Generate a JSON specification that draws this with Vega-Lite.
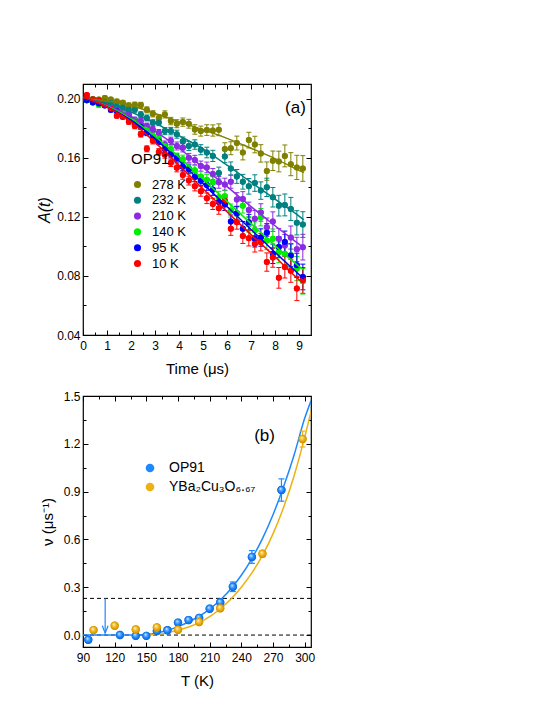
{
  "$schema": "https://vega.github.io/schema/vega-lite/v6.json",
  "background": "white",
  "autosize": {"type": "pad"},
  "padding": {"left": 36, "top": 82, "right": 5, "bottom": 5},
  "bounds": "flush",
  "spacing": 61,
  "resolve": {"scale": {"color": "independent"}, "legend": {"color": "independent"}},
  "config": {
    "font": "Liberation Sans",
    "view": {"stroke": "#000", "strokeWidth": 1.2},
    "tick": {"opacity": 1},
    "axis": {"grid": false, "domain": false, "tickColor": "#000", "tickWidth": 1, "labelColor": "#000", "titleColor": "#000", "labelFontSize": 12, "titleFontSize": 15, "titleFontWeight": "normal", "labelFont": "Liberation Sans", "titleFont": "Liberation Sans"},
    "legend": {"labelFont": "Liberation Sans", "titleFont": "Liberation Sans", "labelColor": "#000", "titleColor": "#000", "symbolOpacity": 1}
  },
  "vconcat": [
    {
      "width": 228,
      "height": 251,
      "data": {"values": [
        {"s":"278 K","t":0.16,"a":0.2000,"e":0.0011},{"s":"278 K","t":0.41,"a":0.1998,"e":0.0011},{"s":"278 K","t":0.66,"a":0.1995,"e":0.0012},{"s":"278 K","t":0.91,"a":0.2005,"e":0.0013},{"s":"278 K","t":1.16,"a":0.1995,"e":0.0014},{"s":"278 K","t":1.41,"a":0.1982,"e":0.0015},{"s":"278 K","t":1.66,"a":0.1973,"e":0.0016},{"s":"278 K","t":1.91,"a":0.1955,"e":0.0017},{"s":"278 K","t":2.16,"a":0.1959,"e":0.0018},{"s":"278 K","t":2.41,"a":0.1957,"e":0.0019},{"s":"278 K","t":2.66,"a":0.1925,"e":0.0020},{"s":"278 K","t":2.91,"a":0.1898,"e":0.0021},{"s":"278 K","t":3.16,"a":0.1870,"e":0.0022},{"s":"278 K","t":3.41,"a":0.1894,"e":0.0024},{"s":"278 K","t":3.66,"a":0.1849,"e":0.0025},{"s":"278 K","t":3.91,"a":0.1831,"e":0.0027},{"s":"278 K","t":4.16,"a":0.1842,"e":0.0028},{"s":"278 K","t":4.41,"a":0.1831,"e":0.0030},{"s":"278 K","t":4.66,"a":0.1792,"e":0.0032},{"s":"278 K","t":4.91,"a":0.1781,"e":0.0034},{"s":"278 K","t":5.16,"a":0.1788,"e":0.0036},{"s":"278 K","t":5.41,"a":0.1785,"e":0.0038},{"s":"278 K","t":5.66,"a":0.1790,"e":0.0040},{"s":"278 K","t":5.91,"a":0.1660,"e":0.0042},{"s":"278 K","t":6.16,"a":0.1665,"e":0.0044},{"s":"278 K","t":6.41,"a":0.1700,"e":0.0047},{"s":"278 K","t":6.66,"a":0.1636,"e":0.0050},{"s":"278 K","t":6.91,"a":0.1720,"e":0.0053},{"s":"278 K","t":7.16,"a":0.1690,"e":0.0056},{"s":"278 K","t":7.41,"a":0.1630,"e":0.0059},{"s":"278 K","t":7.66,"a":0.1510,"e":0.0062},{"s":"278 K","t":7.91,"a":0.1580,"e":0.0066},{"s":"278 K","t":8.16,"a":0.1575,"e":0.0070},{"s":"278 K","t":8.41,"a":0.1613,"e":0.0074},{"s":"278 K","t":8.66,"a":0.1557,"e":0.0078},{"s":"278 K","t":8.91,"a":0.1535,"e":0.0082},{"s":"278 K","t":9.16,"a":0.1528,"e":0.0087},
        {"s":"232 K","t":0.16,"a":0.2000,"e":0.0011},{"s":"232 K","t":0.41,"a":0.1995,"e":0.0011},{"s":"232 K","t":0.66,"a":0.1985,"e":0.0012},{"s":"232 K","t":0.91,"a":0.1978,"e":0.0013},{"s":"232 K","t":1.16,"a":0.1972,"e":0.0014},{"s":"232 K","t":1.41,"a":0.1950,"e":0.0015},{"s":"232 K","t":1.66,"a":0.1940,"e":0.0016},{"s":"232 K","t":1.91,"a":0.1925,"e":0.0017},{"s":"232 K","t":2.16,"a":0.1927,"e":0.0018},{"s":"232 K","t":2.41,"a":0.1893,"e":0.0019},{"s":"232 K","t":2.66,"a":0.1870,"e":0.0020},{"s":"232 K","t":2.91,"a":0.1837,"e":0.0021},{"s":"232 K","t":3.16,"a":0.1840,"e":0.0022},{"s":"232 K","t":3.41,"a":0.1781,"e":0.0024},{"s":"232 K","t":3.66,"a":0.1781,"e":0.0025},{"s":"232 K","t":3.91,"a":0.1760,"e":0.0027},{"s":"232 K","t":4.16,"a":0.1713,"e":0.0028},{"s":"232 K","t":4.41,"a":0.1680,"e":0.0030},{"s":"232 K","t":4.66,"a":0.1690,"e":0.0032},{"s":"232 K","t":4.91,"a":0.1655,"e":0.0034},{"s":"232 K","t":5.16,"a":0.1636,"e":0.0036},{"s":"232 K","t":5.41,"a":0.1613,"e":0.0038},{"s":"232 K","t":5.66,"a":0.1497,"e":0.0040},{"s":"232 K","t":5.91,"a":0.1609,"e":0.0042},{"s":"232 K","t":6.16,"a":0.1528,"e":0.0044},{"s":"232 K","t":6.41,"a":0.1474,"e":0.0047},{"s":"232 K","t":6.66,"a":0.1438,"e":0.0050},{"s":"232 K","t":6.91,"a":0.1407,"e":0.0053},{"s":"232 K","t":7.16,"a":0.1429,"e":0.0056},{"s":"232 K","t":7.41,"a":0.1378,"e":0.0059},{"s":"232 K","t":7.66,"a":0.1400,"e":0.0062},{"s":"232 K","t":7.91,"a":0.1333,"e":0.0066},{"s":"232 K","t":8.16,"a":0.1276,"e":0.0070},{"s":"232 K","t":8.41,"a":0.1281,"e":0.0074},{"s":"232 K","t":8.66,"a":0.1254,"e":0.0078},{"s":"232 K","t":8.91,"a":0.1160,"e":0.0082},{"s":"232 K","t":9.16,"a":0.1148,"e":0.0087},
        {"s":"210 K","t":0.16,"a":0.1995,"e":0.0011},{"s":"210 K","t":0.41,"a":0.1985,"e":0.0011},{"s":"210 K","t":0.66,"a":0.1975,"e":0.0012},{"s":"210 K","t":0.91,"a":0.1958,"e":0.0013},{"s":"210 K","t":1.16,"a":0.1950,"e":0.0014},{"s":"210 K","t":1.41,"a":0.1920,"e":0.0015},{"s":"210 K","t":1.66,"a":0.1905,"e":0.0016},{"s":"210 K","t":1.91,"a":0.1895,"e":0.0017},{"s":"210 K","t":2.16,"a":0.1858,"e":0.0018},{"s":"210 K","t":2.41,"a":0.1849,"e":0.0019},{"s":"210 K","t":2.66,"a":0.1815,"e":0.0020},{"s":"210 K","t":2.91,"a":0.1792,"e":0.0021},{"s":"210 K","t":3.16,"a":0.1770,"e":0.0022},{"s":"210 K","t":3.41,"a":0.1690,"e":0.0024},{"s":"210 K","t":3.66,"a":0.1715,"e":0.0025},{"s":"210 K","t":3.91,"a":0.1680,"e":0.0027},{"s":"210 K","t":4.16,"a":0.1668,"e":0.0028},{"s":"210 K","t":4.41,"a":0.1600,"e":0.0030},{"s":"210 K","t":4.66,"a":0.1585,"e":0.0032},{"s":"210 K","t":4.91,"a":0.1544,"e":0.0034},{"s":"210 K","t":5.16,"a":0.1535,"e":0.0036},{"s":"210 K","t":5.41,"a":0.1490,"e":0.0038},{"s":"210 K","t":5.66,"a":0.1434,"e":0.0040},{"s":"210 K","t":5.91,"a":0.1420,"e":0.0042},{"s":"210 K","t":6.16,"a":0.1438,"e":0.0044},{"s":"210 K","t":6.41,"a":0.1317,"e":0.0047},{"s":"210 K","t":6.66,"a":0.1321,"e":0.0050},{"s":"210 K","t":6.91,"a":0.1247,"e":0.0053},{"s":"210 K","t":7.16,"a":0.1187,"e":0.0056},{"s":"210 K","t":7.41,"a":0.1230,"e":0.0059},{"s":"210 K","t":7.66,"a":0.1130,"e":0.0062},{"s":"210 K","t":7.91,"a":0.1168,"e":0.0066},{"s":"210 K","t":8.16,"a":0.1052,"e":0.0070},{"s":"210 K","t":8.41,"a":0.1007,"e":0.0074},{"s":"210 K","t":8.66,"a":0.1060,"e":0.0078},{"s":"210 K","t":8.91,"a":0.0980,"e":0.0082},{"s":"210 K","t":9.16,"a":0.0995,"e":0.0087},
        {"s":"140 K","t":0.16,"a":0.1990,"e":0.0011},{"s":"140 K","t":0.41,"a":0.1978,"e":0.0011},{"s":"140 K","t":0.66,"a":0.1958,"e":0.0012},{"s":"140 K","t":0.91,"a":0.1962,"e":0.0013},{"s":"140 K","t":1.16,"a":0.1938,"e":0.0014},{"s":"140 K","t":1.41,"a":0.1905,"e":0.0015},{"s":"140 K","t":1.66,"a":0.1900,"e":0.0016},{"s":"140 K","t":1.91,"a":0.1865,"e":0.0017},{"s":"140 K","t":2.16,"a":0.1852,"e":0.0018},{"s":"140 K","t":2.41,"a":0.1810,"e":0.0019},{"s":"140 K","t":2.66,"a":0.1795,"e":0.0020},{"s":"140 K","t":2.91,"a":0.1748,"e":0.0021},{"s":"140 K","t":3.16,"a":0.1730,"e":0.0022},{"s":"140 K","t":3.41,"a":0.1680,"e":0.0024},{"s":"140 K","t":3.66,"a":0.1660,"e":0.0025},{"s":"140 K","t":3.91,"a":0.1605,"e":0.0027},{"s":"140 K","t":4.16,"a":0.1590,"e":0.0028},{"s":"140 K","t":4.41,"a":0.1530,"e":0.0030},{"s":"140 K","t":4.66,"a":0.1515,"e":0.0032},{"s":"140 K","t":4.91,"a":0.1472,"e":0.0034},{"s":"140 K","t":5.16,"a":0.1452,"e":0.0036},{"s":"140 K","t":5.41,"a":0.1434,"e":0.0038},{"s":"140 K","t":5.66,"a":0.1333,"e":0.0040},{"s":"140 K","t":5.91,"a":0.1340,"e":0.0042},{"s":"140 K","t":6.16,"a":0.1243,"e":0.0044},{"s":"140 K","t":6.41,"a":0.1220,"e":0.0047},{"s":"140 K","t":6.66,"a":0.1276,"e":0.0050},{"s":"140 K","t":6.91,"a":0.1150,"e":0.0053},{"s":"140 K","t":7.16,"a":0.1110,"e":0.0056},{"s":"140 K","t":7.41,"a":0.1198,"e":0.0059},{"s":"140 K","t":7.66,"a":0.1040,"e":0.0062},{"s":"140 K","t":7.91,"a":0.1052,"e":0.0066},{"s":"140 K","t":8.16,"a":0.0960,"e":0.0070},{"s":"140 K","t":8.41,"a":0.0951,"e":0.0074},{"s":"140 K","t":8.66,"a":0.0940,"e":0.0078},{"s":"140 K","t":8.91,"a":0.0850,"e":0.0082},{"s":"140 K","t":9.16,"a":0.0764,"e":0.0087},
        {"s":"95 K","t":0.16,"a":0.1990,"e":0.0011},{"s":"95 K","t":0.41,"a":0.1975,"e":0.0011},{"s":"95 K","t":0.66,"a":0.1968,"e":0.0012},{"s":"95 K","t":0.91,"a":0.1955,"e":0.0013},{"s":"95 K","t":1.16,"a":0.1925,"e":0.0014},{"s":"95 K","t":1.41,"a":0.1915,"e":0.0015},{"s":"95 K","t":1.66,"a":0.1880,"e":0.0016},{"s":"95 K","t":1.91,"a":0.1870,"e":0.0017},{"s":"95 K","t":2.16,"a":0.1830,"e":0.0018},{"s":"95 K","t":2.41,"a":0.1812,"e":0.0019},{"s":"95 K","t":2.66,"a":0.1770,"e":0.0020},{"s":"95 K","t":2.91,"a":0.1735,"e":0.0021},{"s":"95 K","t":3.16,"a":0.1712,"e":0.0022},{"s":"95 K","t":3.41,"a":0.1660,"e":0.0024},{"s":"95 K","t":3.66,"a":0.1625,"e":0.0025},{"s":"95 K","t":3.91,"a":0.1598,"e":0.0027},{"s":"95 K","t":4.16,"a":0.1540,"e":0.0028},{"s":"95 K","t":4.41,"a":0.1522,"e":0.0030},{"s":"95 K","t":4.66,"a":0.1470,"e":0.0032},{"s":"95 K","t":4.91,"a":0.1445,"e":0.0034},{"s":"95 K","t":5.16,"a":0.1416,"e":0.0036},{"s":"95 K","t":5.41,"a":0.1384,"e":0.0038},{"s":"95 K","t":5.66,"a":0.1300,"e":0.0040},{"s":"95 K","t":5.91,"a":0.1285,"e":0.0042},{"s":"95 K","t":6.16,"a":0.1169,"e":0.0044},{"s":"95 K","t":6.41,"a":0.1225,"e":0.0047},{"s":"95 K","t":6.66,"a":0.1119,"e":0.0050},{"s":"95 K","t":6.91,"a":0.1164,"e":0.0053},{"s":"95 K","t":7.16,"a":0.1052,"e":0.0056},{"s":"95 K","t":7.41,"a":0.1060,"e":0.0059},{"s":"95 K","t":7.66,"a":0.1092,"e":0.0062},{"s":"95 K","t":7.91,"a":0.0950,"e":0.0066},{"s":"95 K","t":8.16,"a":0.0996,"e":0.0070},{"s":"95 K","t":8.41,"a":0.1030,"e":0.0074},{"s":"95 K","t":8.66,"a":0.0939,"e":0.0078},{"s":"95 K","t":8.91,"a":0.0872,"e":0.0082},{"s":"95 K","t":9.16,"a":0.0793,"e":0.0087},
        {"s":"10 K","t":0.16,"a":0.2025,"e":0.0011},{"s":"10 K","t":0.41,"a":0.1995,"e":0.0011},{"s":"10 K","t":0.66,"a":0.1990,"e":0.0012},{"s":"10 K","t":0.91,"a":0.1960,"e":0.0013},{"s":"10 K","t":1.16,"a":0.1935,"e":0.0014},{"s":"10 K","t":1.41,"a":0.1885,"e":0.0015},{"s":"10 K","t":1.66,"a":0.1880,"e":0.0016},{"s":"10 K","t":1.91,"a":0.1845,"e":0.0017},{"s":"10 K","t":2.16,"a":0.1815,"e":0.0018},{"s":"10 K","t":2.41,"a":0.1760,"e":0.0019},{"s":"10 K","t":2.66,"a":0.1661,"e":0.0020},{"s":"10 K","t":2.91,"a":0.1715,"e":0.0021},{"s":"10 K","t":3.16,"a":0.1640,"e":0.0022},{"s":"10 K","t":3.41,"a":0.1622,"e":0.0024},{"s":"10 K","t":3.66,"a":0.1566,"e":0.0025},{"s":"10 K","t":3.91,"a":0.1532,"e":0.0027},{"s":"10 K","t":4.16,"a":0.1483,"e":0.0028},{"s":"10 K","t":4.41,"a":0.1446,"e":0.0030},{"s":"10 K","t":4.66,"a":0.1408,"e":0.0032},{"s":"10 K","t":4.91,"a":0.1374,"e":0.0034},{"s":"10 K","t":5.16,"a":0.1326,"e":0.0036},{"s":"10 K","t":5.41,"a":0.1288,"e":0.0038},{"s":"10 K","t":5.66,"a":0.1258,"e":0.0040},{"s":"10 K","t":5.91,"a":0.1310,"e":0.0042},{"s":"10 K","t":6.16,"a":0.1119,"e":0.0044},{"s":"10 K","t":6.41,"a":0.1164,"e":0.0047},{"s":"10 K","t":6.66,"a":0.1070,"e":0.0050},{"s":"10 K","t":6.91,"a":0.1056,"e":0.0053},{"s":"10 K","t":7.16,"a":0.1018,"e":0.0056},{"s":"10 K","t":7.41,"a":0.1029,"e":0.0059},{"s":"10 K","t":7.66,"a":0.0894,"e":0.0062},{"s":"10 K","t":7.91,"a":0.0925,"e":0.0066},{"s":"10 K","t":8.16,"a":0.0787,"e":0.0070},{"s":"10 K","t":8.41,"a":0.0860,"e":0.0074},{"s":"10 K","t":8.66,"a":0.0835,"e":0.0078},{"s":"10 K","t":8.91,"a":0.0715,"e":0.0082},{"s":"10 K","t":9.16,"a":0.0770,"e":0.0087}
      ]},
      "layer": [
        {
          "mark": {"type": "point", "filled": true, "size": 36, "opacity": 1, "fillOpacity": 1, "strokeWidth": 0},
          "encoding": {
            "x": {"field": "t", "type": "quantitative", "scale": {"domain": [0, 9.5], "nice": false, "zero": false},
              "axis": {"orient": "bottom", "values": [0,0.5,1,1.5,2,2.5,3,3.5,4,4.5,5,5.5,6,6.5,7,7.5,8,8.5,9],
                "labelExpr": "datum.value % 1 === 0 ? format(datum.value, 'd') : ''",
                "tickSize": {"condition": {"test": "datum.value % 1 === 0", "value": -5}, "value": -3},
                "labelPadding": 10, "labelFlush": false, "labelOverlap": false, "title": "Time (μs)", "titlePadding": 8}},
            "y": {"field": "a", "type": "quantitative", "scale": {"domain": [0.04, 0.21], "nice": false, "zero": false},
              "axis": {"orient": "left", "values": [0.04,0.06,0.08,0.1,0.12,0.14,0.16,0.18,0.2],
                "labelExpr": "round(datum.value*100) % 4 === 0 ? format(datum.value, '.2f') : ''",
                "tickSize": {"condition": {"test": "round(datum.value*100) % 4 === 0", "value": -5}, "value": -3},
                "labelPadding": 8, "labelFlush": false, "labelOverlap": false, "title": "A(t)", "titleFontSize": 16, "titleFontStyle": "italic", "titlePadding": 4}},
            "color": {"field": "s", "type": "nominal", "scale": {"domain": ["278 K", "232 K", "210 K", "140 K", "95 K", "10 K"], "range": ["#808000", "#008080", "#8b2be2", "#00ee00", "#0000ff", "#ff0000"]},
              "legend": {"orient": "none", "legendX": 48, "legendY": 68, "padding": 0, "title": "OP91", "titleFontSize": 15, "titleFontWeight": "normal", "titlePadding": 11, "labelFontSize": 13, "symbolType": "circle", "symbolSize": 50, "symbolStrokeWidth": 0, "symbolOpacity": 1, "symbolFillOpacity": 1, "rowPadding": 1.8, "labelOffset": 8}}
          }
        },
        {
          "mark": {"type": "errorbar", "ticks": {"size": 5, "opacity": 1}, "rule": {"opacity": 1}, "thickness": 1},
          "encoding": {
            "x": {"field": "t", "type": "quantitative", "scale": {"domain": [0, 9.5], "nice": false, "zero": false}, "axis": null},
            "y": {"field": "a", "type": "quantitative", "scale": {"domain": [0.04, 0.21], "nice": false, "zero": false}, "axis": null},
            "yError": {"field": "e"},
            "color": {"field": "s", "type": "nominal"}
          }
        },
        {
          "mark": {"type": "point", "filled": true, "size": 36, "opacity": 1, "strokeWidth": 0},
          "encoding": {
            "x": {"field": "t", "type": "quantitative", "axis": null},
            "y": {"field": "a", "type": "quantitative", "axis": null},
            "color": {"field": "s", "type": "nominal"}
          }
        },
        {
          "data": {"values": [
            {"s":"278 K","t":0,"a":0.2},{"s":"278 K","t":1,"a":0.1985},{"s":"278 K","t":2,"a":0.1955},{"s":"278 K","t":3,"a":0.190},{"s":"278 K","t":4,"a":0.1845},{"s":"278 K","t":5,"a":0.179},{"s":"278 K","t":6,"a":0.1732},{"s":"278 K","t":7,"a":0.1665},{"s":"278 K","t":8,"a":0.1595},{"s":"278 K","t":9,"a":0.1515},{"s":"278 K","t":9.2,"a":0.150},
            {"s":"232 K","t":0,"a":0.2},{"s":"232 K","t":1,"a":0.197},{"s":"232 K","t":2,"a":0.191},{"s":"232 K","t":3,"a":0.1835},{"s":"232 K","t":4,"a":0.175},{"s":"232 K","t":5,"a":0.166},{"s":"232 K","t":6,"a":0.155},{"s":"232 K","t":7,"a":0.1435},{"s":"232 K","t":8,"a":0.132},{"s":"232 K","t":9,"a":0.1205},{"s":"232 K","t":9.2,"a":0.118},
            {"s":"210 K","t":0,"a":0.2},{"s":"210 K","t":1,"a":0.1955},{"s":"210 K","t":2,"a":0.188},{"s":"210 K","t":3,"a":0.178},{"s":"210 K","t":4,"a":0.1665},{"s":"210 K","t":5,"a":0.1535},{"s":"210 K","t":6,"a":0.1405},{"s":"210 K","t":7,"a":0.127},{"s":"210 K","t":8,"a":0.114},{"s":"210 K","t":9,"a":0.1015},{"s":"210 K","t":9.2,"a":0.099},
            {"s":"140 K","t":0,"a":0.2},{"s":"140 K","t":1,"a":0.195},{"s":"140 K","t":2,"a":0.1865},{"s":"140 K","t":3,"a":0.1745},{"s":"140 K","t":4,"a":0.1605},{"s":"140 K","t":5,"a":0.1455},{"s":"140 K","t":6,"a":0.1305},{"s":"140 K","t":7,"a":0.1155},{"s":"140 K","t":8,"a":0.1005},{"s":"140 K","t":9,"a":0.0865},{"s":"140 K","t":9.2,"a":0.084},
            {"s":"95 K","t":0,"a":0.2},{"s":"95 K","t":1,"a":0.1945},{"s":"95 K","t":2,"a":0.1855},{"s":"95 K","t":3,"a":0.173},{"s":"95 K","t":4,"a":0.158},{"s":"95 K","t":5,"a":0.1425},{"s":"95 K","t":6,"a":0.127},{"s":"95 K","t":7,"a":0.1115},{"s":"95 K","t":8,"a":0.096},{"s":"95 K","t":9,"a":0.081},{"s":"95 K","t":9.2,"a":0.078},
            {"s":"10 K","t":0,"a":0.201},{"s":"10 K","t":1,"a":0.1945},{"s":"10 K","t":2,"a":0.1845},{"s":"10 K","t":3,"a":0.1705},{"s":"10 K","t":4,"a":0.155},{"s":"10 K","t":5,"a":0.139},{"s":"10 K","t":6,"a":0.1235},{"s":"10 K","t":7,"a":0.108},{"s":"10 K","t":8,"a":0.093},{"s":"10 K","t":9,"a":0.0775},{"s":"10 K","t":9.2,"a":0.075}
          ]},
          "mark": {"type": "line", "interpolate": "monotone", "strokeWidth": 1.5},
          "encoding": {
            "x": {"field": "t", "type": "quantitative", "scale": {"domain": [0, 9.5], "nice": false, "zero": false},
              "axis": {"orient": "top", "values": [0,0.5,1,1.5,2,2.5,3,3.5,4,4.5,5,5.5,6,6.5,7,7.5,8,8.5,9], "labels": false,
                "tickSize": {"condition": {"test": "datum.value % 1 === 0", "value": -5}, "value": -3}, "title": null}},
            "y": {"field": "a", "type": "quantitative", "scale": {"domain": [0.04, 0.21], "nice": false, "zero": false},
              "axis": {"orient": "right", "values": [0.04,0.06,0.08,0.1,0.12,0.14,0.16,0.18,0.2], "labels": false,
                "tickSize": {"condition": {"test": "round(datum.value*100) % 4 === 0", "value": -5}, "value": -3}, "title": null}},
            "color": {"field": "s", "type": "nominal"}
          }
        },
        {
          "data": {"values": [{"label": "(a)"}]},
          "mark": {"type": "text", "fontSize": 17, "color": "#000", "font": "Liberation Sans"},
          "encoding": {
            "x": {"datum": 8.85, "type": "quantitative", "axis": null},
            "y": {"datum": 0.1935, "type": "quantitative", "axis": null},
            "text": {"field": "label"}
          }
        }
      ]
    },
    {
      "width": 228,
      "height": 251,
      "data": {"values": [
        {"s":"OP91","T":95,"v":-0.03,"e":0.01},{"s":"OP91","T":125,"v":0.0,"e":0.01},{"s":"OP91","T":140,"v":-0.005,"e":0.01},{"s":"OP91","T":150,"v":-0.005,"e":0.01},{"s":"OP91","T":160,"v":0.025,"e":0.01},{"s":"OP91","T":170,"v":0.03,"e":0.01},{"s":"OP91","T":180,"v":0.078,"e":0.015},{"s":"OP91","T":190,"v":0.094,"e":0.015},{"s":"OP91","T":200,"v":0.108,"e":0.015},{"s":"OP91","T":210,"v":0.165,"e":0.015},{"s":"OP91","T":220,"v":0.205,"e":0.02},{"s":"OP91","T":232,"v":0.303,"e":0.03},{"s":"OP91","T":250,"v":0.49,"e":0.04},{"s":"OP91","T":278,"v":0.91,"e":0.07},
        {"s":"YBa₂Cu₃O₆.₆₇","T":100,"v":0.031,"e":0.01},{"s":"YBa₂Cu₃O₆.₆₇","T":120,"v":0.058,"e":0.01},{"s":"YBa₂Cu₃O₆.₆₇","T":140,"v":0.035,"e":0.01},{"s":"YBa₂Cu₃O₆.₆₇","T":160,"v":0.048,"e":0.01},{"s":"YBa₂Cu₃O₆.₆₇","T":180,"v":0.033,"e":0.01},{"s":"YBa₂Cu₃O₆.₆₇","T":200,"v":0.082,"e":0.01},{"s":"YBa₂Cu₃O₆.₆₇","T":220,"v":0.168,"e":0.015},{"s":"YBa₂Cu₃O₆.₆₇","T":260,"v":0.51,"e":0.02},{"s":"YBa₂Cu₃O₆.₆₇","T":298,"v":1.23,"e":0.05}
      ]},
      "layer": [
        {
          "mark": {"type": "point", "filled": true, "size": 70, "opacity": 1, "fillOpacity": 1, "strokeWidth": 0},
          "encoding": {
            "x": {"field": "T", "type": "quantitative", "scale": {"domain": [90, 306], "nice": false, "zero": false},
              "axis": {"orient": "top", "values": [90,105,120,135,150,165,180,195,210,225,240,255,270,285,300], "labels": false,
                "tickSize": {"condition": {"test": "(datum.value - 90) % 30 === 0", "value": -5}, "value": -3}, "title": null}},
            "y": {"field": "v", "type": "quantitative", "scale": {"domain": [-0.075, 1.5], "nice": false, "zero": false},
              "axis": {"orient": "right", "values": [0,0.15,0.3,0.45,0.6,0.75,0.9,1.05,1.2,1.35,1.5], "labels": false,
                "tickSize": {"condition": {"test": "round(datum.value*100) % 30 === 0", "value": -5}, "value": -3}, "title": null}},
            "color": {"field": "s", "type": "nominal", "scale": {"domain": ["OP91", "YBa₂Cu₃O₆.₆₇"], "range": ["#1e88ff", "#eeb111"]},
              "legend": {"orient": "none", "legendX": 60, "legendY": 65, "padding": 0, "title": null, "labelFontSize": 14, "symbolType": "circle", "symbolSize": 75, "symbolStrokeWidth": 0, "symbolOpacity": 1, "symbolFillOpacity": 1, "rowPadding": 5, "labelOffset": 12}}
          }
        },
        {
          "data": {"values": [{"v": 0}, {"v": 0.23}]},
          "mark": {"type": "rule", "strokeDash": [4, 3], "color": "#000", "strokeWidth": 1},
          "encoding": {
            "y": {"field": "v", "type": "quantitative", "axis": null}
          }
        },
        {
          "data": {"values": [
            {"s":"OP91","T":90,"v":0},{"s":"OP91","T":140,"v":0},{"s":"OP91","T":150,"v":0.003},{"s":"OP91","T":160,"v":0.013},{"s":"OP91","T":170,"v":0.03},{"s":"OP91","T":180,"v":0.053},{"s":"OP91","T":190,"v":0.082},{"s":"OP91","T":200,"v":0.118},{"s":"OP91","T":210,"v":0.163},{"s":"OP91","T":220,"v":0.22},{"s":"OP91","T":232,"v":0.305},{"s":"OP91","T":240,"v":0.375},{"s":"OP91","T":250,"v":0.48},{"s":"OP91","T":260,"v":0.605},{"s":"OP91","T":270,"v":0.755},{"s":"OP91","T":280,"v":0.93},{"s":"OP91","T":290,"v":1.13},{"s":"OP91","T":300,"v":1.36},{"s":"OP91","T":306,"v":1.47},
            {"s":"YBa₂Cu₃O₆.₆₇","T":150,"v":0},{"s":"YBa₂Cu₃O₆.₆₇","T":160,"v":0.005},{"s":"YBa₂Cu₃O₆.₆₇","T":170,"v":0.015},{"s":"YBa₂Cu₃O₆.₆₇","T":180,"v":0.03},{"s":"YBa₂Cu₃O₆.₆₇","T":190,"v":0.05},{"s":"YBa₂Cu₃O₆.₆₇","T":200,"v":0.078},{"s":"YBa₂Cu₃O₆.₆₇","T":210,"v":0.115},{"s":"YBa₂Cu₃O₆.₆₇","T":220,"v":0.165},{"s":"YBa₂Cu₃O₆.₆₇","T":230,"v":0.225},{"s":"YBa₂Cu₃O₆.₆₇","T":240,"v":0.3},{"s":"YBa₂Cu₃O₆.₆₇","T":250,"v":0.39},{"s":"YBa₂Cu₃O₆.₆₇","T":260,"v":0.5},{"s":"YBa₂Cu₃O₆.₆₇","T":270,"v":0.635},{"s":"YBa₂Cu₃O₆.₆₇","T":280,"v":0.8},{"s":"YBa₂Cu₃O₆.₆₇","T":290,"v":1.0},{"s":"YBa₂Cu₃O₆.₆₇","T":300,"v":1.24},{"s":"YBa₂Cu₃O₆.₆₇","T":306,"v":1.4}
          ]},
          "mark": {"type": "line", "interpolate": "monotone", "strokeWidth": 1.5, "clip": true},
          "encoding": {
            "x": {"field": "T", "type": "quantitative", "scale": {"domain": [90, 306], "nice": false, "zero": false},
              "axis": {"orient": "bottom", "values": [90,105,120,135,150,165,180,195,210,225,240,255,270,285,300],
                "labelExpr": "(datum.value - 90) % 30 === 0 ? format(datum.value, 'd') : ''",
                "tickSize": {"condition": {"test": "(datum.value - 90) % 30 === 0", "value": -5}, "value": -3},
                "labelPadding": 10, "labelFlush": false, "labelOverlap": false, "title": "T (K)", "titlePadding": 8}},
            "y": {"field": "v", "type": "quantitative", "scale": {"domain": [-0.075, 1.5], "nice": false, "zero": false},
              "axis": {"orient": "left", "values": [0,0.15,0.3,0.45,0.6,0.75,0.9,1.05,1.2,1.35,1.5],
                "labelExpr": "round(datum.value*100) % 30 === 0 ? format(datum.value, '.1f') : ''",
                "tickSize": {"condition": {"test": "round(datum.value*100) % 30 === 0", "value": -5}, "value": -3},
                "labelPadding": 8, "labelFlush": false, "labelOverlap": false, "title": "ν (μs⁻¹)", "titlePadding": 8}},
            "color": {"field": "s", "type": "nominal"}
          }
        },
        {
          "data": {"values": [{}]},
          "mark": {"type": "rule", "color": "#1e88ff", "strokeWidth": 1.2},
          "encoding": {
            "x": {"datum": 111, "type": "quantitative", "axis": null},
            "y": {"datum": 0.23, "type": "quantitative", "axis": null},
            "y2": {"datum": 0.012}
          }
        },
        {
          "data": {"values": [{}]},
          "mark": {"type": "point", "shape": "M -0.55 -0.4 L 0 1 L 0.55 -0.4", "filled": false, "stroke": "#1e88ff", "strokeWidth": 1.2, "size": 110, "opacity": 1},
          "encoding": {
            "x": {"datum": 111, "type": "quantitative", "axis": null},
            "y": {"datum": 0.045, "type": "quantitative", "axis": null}
          }
        },
        {
          "mark": {"type": "errorbar", "ticks": {"size": 6, "opacity": 1}, "rule": {"opacity": 1}, "thickness": 1.2},
          "encoding": {
            "x": {"field": "T", "type": "quantitative", "axis": null},
            "y": {"field": "v", "type": "quantitative", "axis": null},
            "yError": {"field": "e"},
            "color": {"field": "s", "type": "nominal"}
          }
        },
        {
          "transform": [{"filter": "datum.s === 'OP91'"}],
          "mark": {"type": "point", "filled": true, "size": 70, "opacity": 1, "strokeWidth": 0,
            "fill": {"gradient": "radial", "x1": 0.38, "y1": 0.32, "r1": 0, "x2": 0.5, "y2": 0.5, "r2": 0.55,
              "stops": [{"offset": 0, "color": "#ffffff"}, {"offset": 0.22, "color": "#7cc0ff"}, {"offset": 0.55, "color": "#1e88ff"}, {"offset": 1, "color": "#0a5cc4"}]}},
          "encoding": {
            "x": {"field": "T", "type": "quantitative", "axis": null},
            "y": {"field": "v", "type": "quantitative", "axis": null}
          }
        },
        {
          "transform": [{"filter": "datum.s !== 'OP91'"}],
          "mark": {"type": "point", "filled": true, "size": 70, "opacity": 1, "strokeWidth": 0,
            "fill": {"gradient": "radial", "x1": 0.38, "y1": 0.32, "r1": 0, "x2": 0.5, "y2": 0.5, "r2": 0.55,
              "stops": [{"offset": 0, "color": "#ffffff"}, {"offset": 0.22, "color": "#f8d870"}, {"offset": 0.55, "color": "#eeb111"}, {"offset": 1, "color": "#c08800"}]}},
          "encoding": {
            "x": {"field": "T", "type": "quantitative", "axis": null},
            "y": {"field": "v", "type": "quantitative", "axis": null}
          }
        },
        {
          "data": {"values": [{"label": "(b)"}]},
          "mark": {"type": "text", "fontSize": 17, "color": "#000", "font": "Liberation Sans"},
          "encoding": {
            "x": {"datum": 262, "type": "quantitative", "axis": null},
            "y": {"datum": 1.25, "type": "quantitative", "axis": null},
            "text": {"field": "label"}
          }
        }
      ]
    }
  ]
}
